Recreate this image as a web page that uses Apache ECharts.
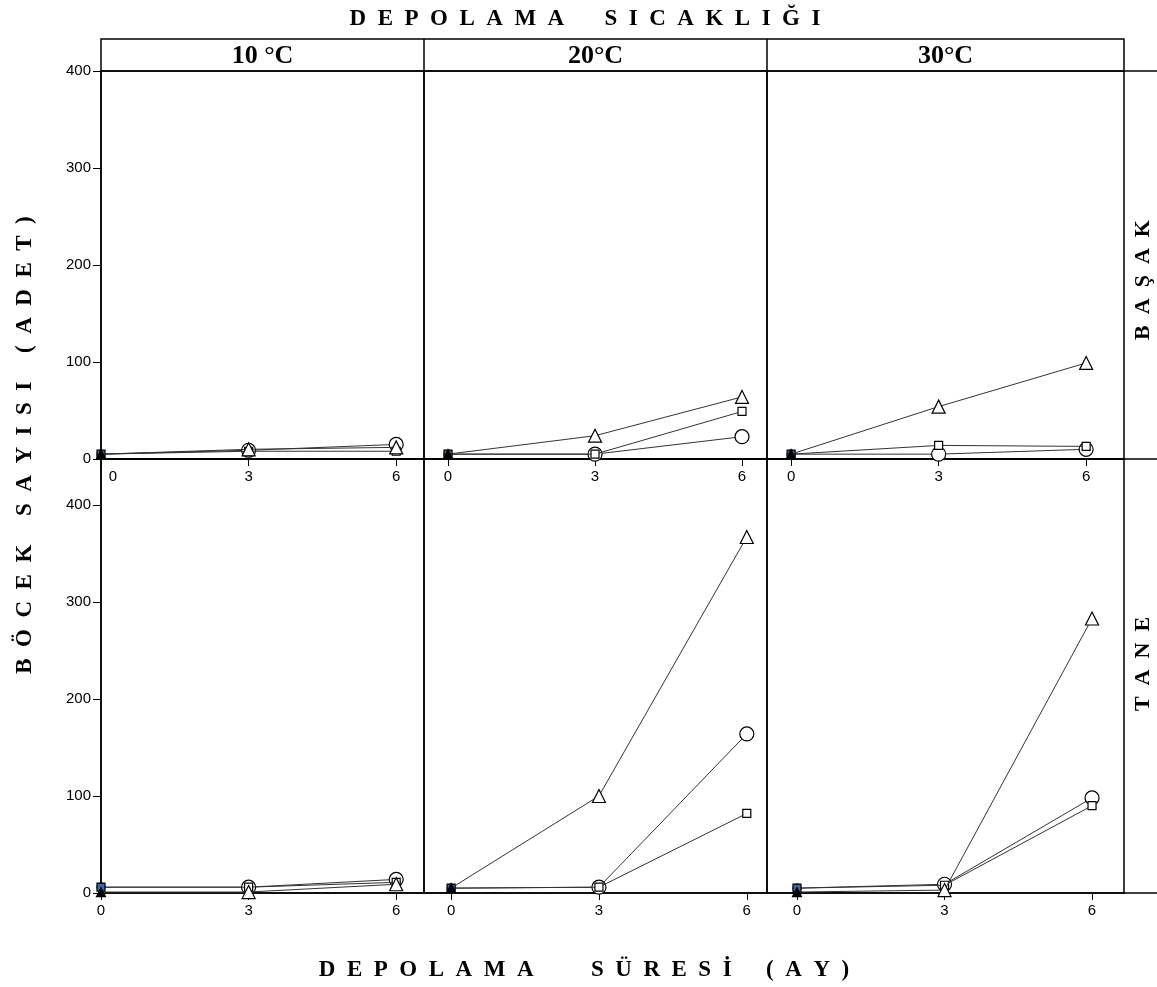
<!DOCTYPE html>
<html>
<head>
<meta charset="utf-8">
<script src="https://cdn.jsdelivr.net/npm/echarts@6/dist/echarts.min.js"></script>
<style>
  html, body { margin: 0; padding: 0; background: #fff; }
  #chart { width: 1157px; height: 987px; }
</style>
</head>
<body>
<div id="chart"></div>
<script>
// depolama süresi (ay)
var months = [0, 3, 6];
var monthTicks = [0, 3, 6];
var countTicks = [0, 100, 200, 300, 400];
var temps = ['10 °C', '20°C', '30°C'];
var rows = ['B  A  Ş  A  K', 'T  A  N  E'];

// BAŞAK satırı, her biri 10 / 20 / 30 °C için
var basakUcgen = [[5, 10, 12], [5, 24, 64], [5, 54, 99]];
var basakKare  = [[5, 8, 8],   [5, 5, 49],  [5, 14, 13]];
var basakDaire = [[5, 9, 15],  [5, 5, 23],  [5, 5, 10]];

// TANE satırı
var taneUcgen = [[1, 1, 9],   [5, 100, 367], [1, 3, 283]];
var taneKare  = [[6, 6, 11],  [5, 6, 82],    [5, 8, 90]];
var taneDaire = [[6, 6, 14],  [5, 6, 164],   [5, 9, 98]];

var chart = echarts.init(document.getElementById('chart'));

// panel yerleşimi (px) ve x ekseni aralıkları
var colLeft = [101, 424, 767];
var colWidth = [323, 343, 357];
var rowTop = [71, 459];
var rowHeight = [388, 434];
var xRange = [
  [[0, 6.565], [-0.49, 6.51], [-0.49, 6.77]],
  [[0, 6.565], [-0.55, 6.41], [-0.61, 6.65]]
];
var yMax = [400, 447.4];

var labelFont = { fontFamily: 'Liberation Sans, Arial, sans-serif', fontSize: 15, color: '#000' };
var serif = 'Liberation Serif, Times New Roman, serif';

var grids = [], xAxes = [], yAxes = [], series = [];
var rowData = [
  [basakUcgen, basakKare, basakDaire],
  [taneUcgen, taneKare, taneDaire]
];
var kinds = [
  { symbol: 'triangle', size: 13, first: { symbolSize: 9, itemStyle: { color: '#000' } } },
  { symbol: 'rect', size: 8, first: { symbolSize: 8, itemStyle: { color: '#3d6aa8' } } },
  { symbol: 'circle', size: 14, first: { symbolSize: 8 } }
];

for (var r = 0; r < 2; r++) {
  for (var c = 0; c < 3; c++) {
    var idx = grids.length;
    grids.push({
      left: colLeft[c], top: rowTop[r], width: colWidth[c], height: rowHeight[r],
      show: true, borderColor: '#000', borderWidth: 1.5, backgroundColor: 'transparent'
    });
    var xLabel = Object.assign({ customValues: monthTicks, margin: 10 }, labelFont);
    if (r === 0 && c === 0) {
      // ilk "0" etiketi y ekseninden biraz sağa kayık
      xLabel.formatter = function (v) { return v === 0 ? '{pad|0}' : String(v); };
      xLabel.rich = { pad: { padding: [0, 0, 0, 24], fontFamily: labelFont.fontFamily, fontSize: 15, color: '#000' } };
    }
    xAxes.push({
      type: 'value', gridIndex: idx,
      min: xRange[r][c][0], max: xRange[r][c][1],
      axisLine: { show: true, onZero: false, lineStyle: { color: '#000', width: 1.5 } },
      axisTick: { show: true, length: 7, customValues: monthTicks, lineStyle: { color: '#000' } },
      axisLabel: xLabel,
      splitLine: { show: false }
    });
    yAxes.push({
      type: 'value', gridIndex: idx,
      min: 0, max: yMax[r],
      axisLine: { show: c === 0, lineStyle: { color: '#000', width: 1.5 } },
      axisTick: { show: c === 0, length: 8, customValues: countTicks, lineStyle: { color: '#000' } },
      axisLabel: Object.assign({ show: c === 0, customValues: countTicks, margin: 10 }, labelFont),
      splitLine: { show: false }
    });
    for (var k = 0; k < 3; k++) {
      var vals = rowData[r][k][c];
      var kind = kinds[k];
      var pts = months.map(function (m, i) {
        var p = { value: [m, vals[i]] };
        if (i === 0) {
          p.symbolSize = kind.first.symbolSize;
          if (kind.first.itemStyle) p.itemStyle = kind.first.itemStyle;
        }
        return p;
      });
      series.push({
        type: 'line', xAxisIndex: idx, yAxisIndex: idx,
        data: pts,
        symbol: kind.symbol, symbolSize: kind.size,
        showSymbol: true,
        lineStyle: { color: '#333', width: 1 },
        itemStyle: { color: '#fff', borderColor: '#000', borderWidth: 1.2 },
        emphasis: { disabled: true },
        z: 3 + (2 - k)
      });
    }
  }
}

var lineStyle = { stroke: '#000', lineWidth: 1.5 };
var graphics = [
  // üst başlık şeridi
  { type: 'rect', shape: { x: 101, y: 39, width: 1023, height: 32 },
    style: { fill: 'none', stroke: '#000', lineWidth: 1.5 } },
  { type: 'line', shape: { x1: 424, y1: 39, x2: 424, y2: 71 }, style: lineStyle },
  { type: 'line', shape: { x1: 767, y1: 39, x2: 767, y2: 71 }, style: lineStyle },
  { type: 'line', shape: { x1: 1124, y1: 71, x2: 1157, y2: 71 }, style: lineStyle },
  { type: 'line', shape: { x1: 1124, y1: 459, x2: 1157, y2: 459 }, style: lineStyle },
  { type: 'line', shape: { x1: 1124, y1: 893, x2: 1157, y2: 893 }, style: lineStyle },
  { type: 'text', x: 585, y: 19,
    style: { text: 'D  E  P  O  L  A  M  A       S  I  C  A  K  L  I  Ğ  I', font: 'bold 23px ' + serif,
      fill: '#000', align: 'center', verticalAlign: 'middle' } },
  { type: 'text', x: 584, y: 970,
    style: { text: 'D  E  P  O  L  A  M  A          S  Ü  R  E  S  İ      (  A  Y  )', font: 'bold 23px ' + serif,
      fill: '#000', align: 'center', verticalAlign: 'middle' } },
  { type: 'text', x: 25, y: 445, rotation: Math.PI / 2,
    style: { text: 'B  Ö  C  E  K     S  A  Y  I  S  I     (  A  D  E  T  )', font: 'bold 23px ' + serif,
      fill: '#000', align: 'center', verticalAlign: 'middle' } }
];

for (var c2 = 0; c2 < 3; c2++) {
  graphics.push({ type: 'text', x: colLeft[c2] + colWidth[c2] / 2, y: 56,
    style: { text: temps[c2], font: 'bold 26px ' + serif, fill: '#000', align: 'center', verticalAlign: 'middle' } });
}
var rowCenter = [280, 664];
for (var r2 = 0; r2 < 2; r2++) {
  graphics.push({ type: 'text', x: 1143, y: rowCenter[r2], rotation: Math.PI / 2,
    style: { text: rows[r2], font: 'bold 22px ' + serif, fill: '#000', align: 'center', verticalAlign: 'middle' } });
}

chart.setOption({
  animation: false,
  backgroundColor: '#fff',
  grid: grids,
  xAxis: xAxes,
  yAxis: yAxes,
  series: series,
  graphic: graphics
});
</script>
</body>
</html>
